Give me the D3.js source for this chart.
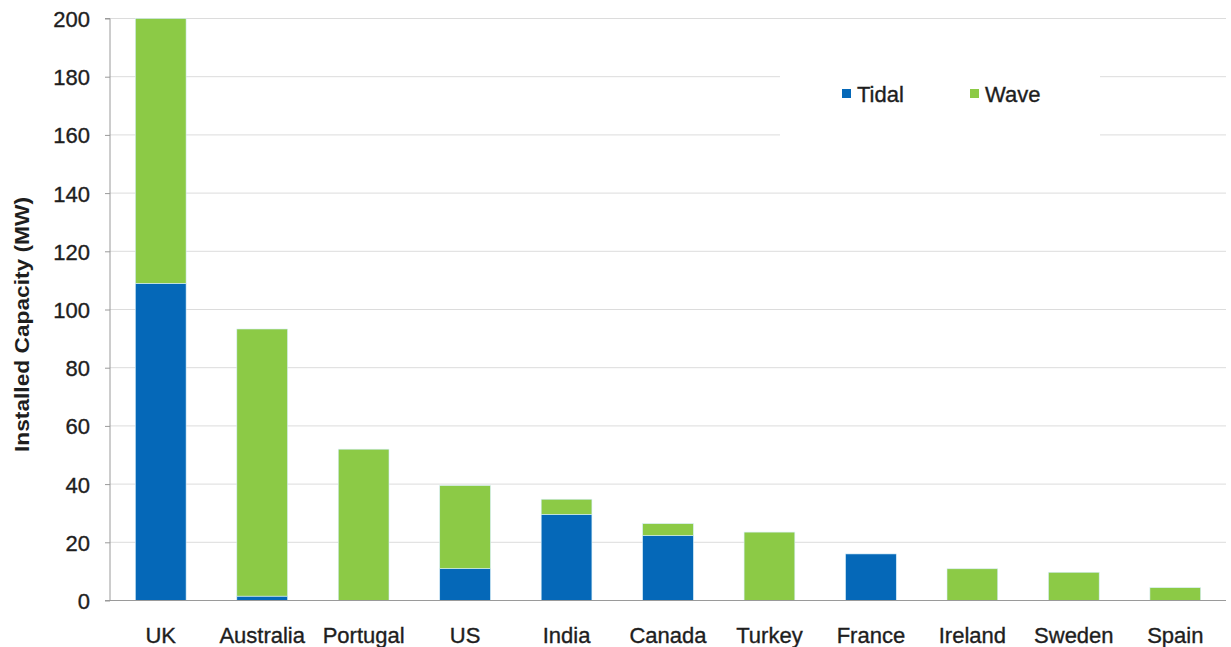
<!DOCTYPE html>
<html><head><meta charset="utf-8">
<script src="https://cdn.jsdelivr.net/npm/d3@7"></script>
<style>body{margin:0;background:#fff}svg{display:block;font-family:"Liberation Sans",Arial,sans-serif}</style>
</head><body><svg id="c" width="1231" height="647"></svg>
<script>
const countries = ["UK","Australia","Portugal","US","India","Canada","Turkey","France","Ireland","Sweden","Spain"];
const tidal = [109, 1.5, 0, 11, 29.6, 22.3, 0, 16, 0, 0, 0];
const wave  = [91, 91.8, 52, 28.5, 5.2, 4.1, 23.5, 0, 10.9, 9.7, 4.4];
const yTicks = [0,20,40,60,80,100,120,140,160,180,200];
const seriesNames = ["Tidal","Wave"];
const colors = ["#0568b8","#8cca46"];

const svg = d3.select("#c");
const pL = 110, pR = 1226, pT = 18.5, pB = 600.5;
const x = d3.scaleBand().domain(countries).range([pL,pR]).paddingInner(0.5).paddingOuter(0.25);
const y = d3.scaleLinear().domain([0,200]).range([pB,pT]);
const txt = "#1e1e1e";

// gridlines
svg.append("g").selectAll("line").data(yTicks.filter(d=>d>0)).join("line")
  .attr("x1",pL).attr("x2",pR).attr("y1",d=>y(d)).attr("y2",d=>y(d))
  .attr("stroke","#dcdcdc").attr("stroke-width",1);

// legend background
svg.append("rect").attr("x",780).attr("y",58).attr("width",320).attr("height",82).attr("fill","#fff");

// bars
const data = countries.map((c,i)=>({c, Tidal:tidal[i], Wave:wave[i]}));
const stack = d3.stack().keys(seriesNames)(data);
svg.append("g").selectAll("g").data(stack).join("g").attr("fill",(d,i)=>colors[i])
  .selectAll("rect").data(d=>d.filter(s=>s[1]-s[0]>0)).join("rect")
  .attr("x",d=>x(d.data.c)).attr("width",x.bandwidth())
  .attr("y",d=>y(d[1])).attr("height",d=>y(d[0])-y(d[1]))
  .attr("stroke","#d6eef8").attr("stroke-width",0.6);

function styleText(sel){
  sel.attr("font-size",22).attr("fill",txt).attr("stroke",txt).attr("stroke-width",0.35)
     .attr("font-family","Liberation Sans, Arial, sans-serif");
}

// y axis
const ya = svg.append("g").attr("transform",`translate(${pL},0)`)
  .call(d3.axisLeft(y).tickValues(yTicks).tickSize(5).tickPadding(15));
ya.select(".domain").attr("stroke","#9a9a9a").attr("d",`M-5,${pT}H0V${pB}`);
ya.selectAll(".tick line").attr("stroke","#9a9a9a");
ya.selectAll("text").call(styleText).attr("dy","0.36em");

// x axis
const xa = svg.append("g").attr("transform",`translate(0,${pB})`)
  .call(d3.axisBottom(x).tickSize(0).tickPadding(27));
xa.select(".domain").attr("stroke","#9a9a9a").attr("d",`M${pL-5},0H${pR}`);
xa.selectAll("text").call(styleText);

// y title
svg.append("text").attr("transform","translate(29,324.5) rotate(-90)").attr("text-anchor","middle")
  .attr("font-size",20).attr("font-weight","bold").attr("fill",txt)
  .attr("textLength",255).attr("lengthAdjust","spacingAndGlyphs").text("Installed Capacity (MW)");

// legend
const lg = svg.append("g");
const lx = [842, 970];
seriesNames.forEach((s,i)=>{
  lg.append("rect").attr("x",lx[i]).attr("y",89).attr("width",9).attr("height",9).attr("fill",colors[i]);
  lg.append("text").attr("x",lx[i]+15).attr("y",102).call(styleText).text(s);
});
</script></body></html>
